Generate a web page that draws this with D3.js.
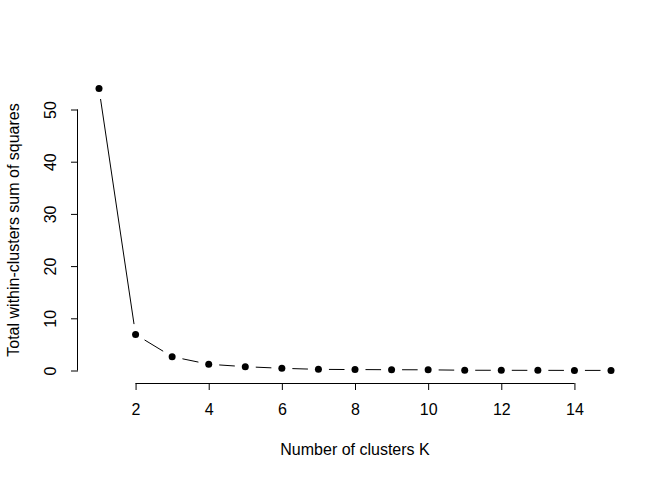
<!DOCTYPE html>
<html>
<head>
<meta charset="utf-8">
<script src="https://cdn.jsdelivr.net/npm/d3@7"></script>
<style>
  html, body { margin: 0; padding: 0; background: #fff; }
  svg { display: block; }
  text { font-family: "Liberation Sans", Arial, sans-serif; fill: #000; }
</style>
</head>
<body>
<svg id="chart" width="672" height="480"></svg>
<script>
const kValues = [1, 2, 3, 4, 5, 6, 7, 8, 9, 10, 11, 12, 13, 14, 15];
const wssValues = [54, 6.9, 2.65, 1.2, 0.73, 0.42, 0.22, 0.18, 0.15, 0.13, 0.05, 0.04, 0.03, 0.02, 0.02];
const xTicks = [2, 4, 6, 8, 10, 12, 14];
const yTicks = [0, 10, 20, 30, 40, 50];
const xLabel = "Number of clusters K";
const yLabel = "Total within-clusters sum of squares";

const svg = d3.select("#chart");
svg.append("rect").attr("width", 672).attr("height", 480).attr("fill", "#fff");

const x = d3.scaleLinear().domain([1, 15]).range([99, 611]);
const y = d3.scaleLinear().domain([0, 50]).range([370.5, 109.5]);

const plotLeft = 78, plotBottom = 383;

// X axis
const xAxis = d3.axisBottom(x).tickValues(xTicks).tickSize(7).tickSizeOuter(0).tickPadding(14).tickFormat(d3.format("d"));
const gx = svg.append("g").attr("transform", `translate(0,${plotBottom})`).call(xAxis);
gx.select(".domain").remove();
gx.append("line").attr("x1", x(xTicks[0])).attr("x2", x(xTicks[xTicks.length - 1]))
  .attr("y1", 0.5).attr("y2", 0.5).attr("stroke", "#000");
gx.selectAll(".tick line").attr("stroke", "#000");
gx.selectAll(".tick text").attr("font-size", 16).attr("font-family", "Liberation Sans, Arial, sans-serif").attr("fill", "#000");

// Y axis
const yAxis = d3.axisLeft(y).tickValues(yTicks).tickSize(7).tickSizeOuter(0).tickFormat(d3.format("d"));
const gy = svg.append("g").attr("transform", `translate(${plotLeft},0)`).call(yAxis);
gy.select(".domain").remove();
gy.append("line").attr("x1", -0.5).attr("x2", -0.5)
  .attr("y1", y(yTicks[0])).attr("y2", y(yTicks[yTicks.length - 1])).attr("stroke", "#000");
gy.selectAll(".tick line").attr("stroke", "#000");
gy.selectAll(".tick text")
  .attr("font-size", 16).attr("font-family", "Liberation Sans, Arial, sans-serif").attr("fill", "#000")
  .attr("x", 0).attr("dy", null)
  .attr("text-anchor", "middle")
  .attr("transform", "translate(-28,0) rotate(-90)")
  .attr("dominant-baseline", "central");

// Axis titles
svg.append("text").attr("x", 355).attr("y", 455).attr("text-anchor", "middle")
  .attr("font-size", 16).text(xLabel);
svg.append("text").attr("transform", "translate(19,230) rotate(-90)").attr("text-anchor", "middle")
  .attr("font-size", 16).text(yLabel);

// Lines with gaps (type = "b")
const pts = kValues.map((k, i) => [x(k), y(wssValues[i])]);
const gap = 10.5;
for (let i = 0; i < pts.length - 1; i++) {
  const [x1, y1] = pts[i], [x2, y2] = pts[i + 1];
  const dx = x2 - x1, dy = y2 - y1, len = Math.hypot(dx, dy);
  if (len <= 2 * gap) continue;
  const ux = dx / len, uy = dy / len;
  svg.append("line")
    .attr("x1", x1 + ux * gap).attr("y1", y1 + uy * gap)
    .attr("x2", x2 - ux * gap).attr("y2", y2 - uy * gap)
    .attr("stroke", "#000").attr("stroke-width", 1);
}

// Points
svg.append("g").selectAll("circle").data(kValues).join("circle")
  .attr("cx", d => x(d)).attr("cy", (d, i) => y(wssValues[i]))
  .attr("r", 3.5).attr("fill", "#000");
</script>
</body>
</html>
